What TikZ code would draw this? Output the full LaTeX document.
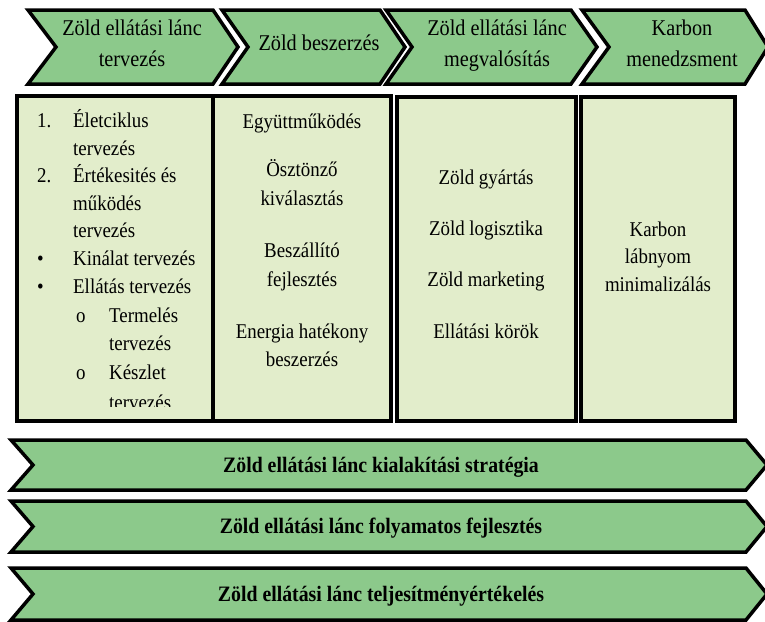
\documentclass[tikz,border=0pt]{standalone}
\usepackage{fontspec}
\setmainfont{Liberation Serif}[FakeStretch=0.9]
\definecolor{arrowgreen}{RGB}{140,201,139}
\definecolor{boxgreen}{RGB}{226,237,203}
\begin{document}
\begin{tikzpicture}[x=1pt,y=-1pt,
  chev/.style={draw=black, fill=arrowgreen, line width=3.5pt, line join=miter},
  panel/.style={draw=black, fill=boxgreen, line width=3.5pt},
  ctext/.style={font=\fontsize{22.5}{30}\selectfont, anchor=base, inner sep=0pt},
  btext/.style={font=\fontsize{21}{28}\selectfont, anchor=base, inner sep=0pt},
  ltext/.style={font=\fontsize{21}{28}\selectfont, anchor=base west, inner sep=0pt},
  strat/.style={font=\bfseries\fontsize{22}{24}\selectfont, anchor=base, inner sep=0pt}]
\useasboundingbox (0,0) rectangle (765,621);
\begin{scope}
\clip (0,0) rectangle (765,621);
% top chevrons
\draw[chev] (28,10) -- (213,10) -- (238,47) -- (213,84) -- (28,84) -- (56,47) -- cycle;
\draw[chev] (222,10) -- (380,10) -- (405,47) -- (380,84) -- (222,84) -- (248,47) -- cycle;
\draw[chev] (386,10) -- (571,10) -- (597,47) -- (571,84) -- (386,84) -- (412,47) -- cycle;
\draw[chev] (582,10) -- (745,10) -- (768,47) -- (745,84) -- (582,84) -- (609,47) -- cycle;
% panels
\draw[panel] (17,96) rectangle (213,421);
\draw[panel] (213,96) rectangle (391,421);
\draw[panel] (397,97) rectangle (576,421);
\draw[panel] (581,97) rectangle (735,421);
% bottom arrows
\draw[chev] (11,440) -- (746,440) -- (767,465) -- (746,490) -- (11,490) -- (33,465) -- cycle;
\draw[chev] (11,501) -- (746,501) -- (767,526.5) -- (746,552) -- (11,552) -- (33,526.5) -- cycle;
\draw[chev] (11,568) -- (746,568) -- (767,594) -- (746,620) -- (11,620) -- (33,594) -- cycle;
\end{scope}
% chevron texts
\node[ctext] (c1a) at (132,35) {Zöld ellátási lánc};
\node[ctext] (c1b) at (132,66) {tervezés};
\node[ctext] (c2a) at (319,50) {Zöld beszerzés};
\node[ctext] (c3a) at (497,35) {Zöld ellátási lánc};
\node[ctext] (c3b) at (497,66) {megvalósítás};
\node[ctext] (c4a) at (682,35) {Karbon};
\node[ctext] (c4b) at (682,66) {menedzsment};
% panel 1 list
\begin{scope}
\clip (17,96) rectangle (213,406);
\node[ltext] (n1) at (37,127) {1.};
\node[ltext] (l1) at (73,127) {Életciklus};
\node[ltext] (l2) at (73,155) {tervezés};
\node[ltext] (n2) at (37,182) {2.};
\node[ltext] (l3) at (73,182) {Értékesités és};
\node[ltext] (l4) at (73,210) {működés};
\node[ltext] (l5) at (73,237) {tervezés};
\node[ltext] (b1) at (37,265) {•};
\node[ltext] (l6) at (73,265) {Kinálat tervezés};
\node[ltext] (b2) at (37,293) {•};
\node[ltext] (l7) at (73,293) {Ellátás tervezés};
\node[ltext] (o1) at (76,322) {o};
\node[ltext] (l8) at (109,322) {Termelés};
\node[ltext] (l9) at (109,350) {tervezés};
\node[ltext] (o2) at (76,379) {o};
\node[ltext] (l10) at (109,379) {Készlet};
\node[ltext] (l11) at (109,409) {tervezés};
\end{scope}
% panel 2
\node[btext] (p2a) at (302,128) {Együttműködés};
\node[btext] (p2b) at (302,176) {Ösztönző};
\node[btext] (p2c) at (302,205) {kiválasztás};
\node[btext] (p2d) at (302,257) {Beszállító};
\node[btext] (p2e) at (302,286) {fejlesztés};
\node[btext] (p2f) at (302,338) {Energia hatékony};
\node[btext] (p2g) at (302,366) {beszerzés};
% panel 3
\node[btext] (p3a) at (486,184) {Zöld gyártás};
\node[btext] (p3b) at (486,235) {Zöld logisztika};
\node[btext] (p3c) at (486,286) {Zöld marketing};
\node[btext] (p3d) at (486,338) {Ellátási körök};
% panel 4
\node[btext] (p4a) at (658,236) {Karbon};
\node[btext] (p4b) at (658,263) {lábnyom};
\node[btext] (p4c) at (658,291) {minimalizálás};
% bottom texts
\node[strat] (s1) at (381,472) {Zöld ellátási lánc kialakítási stratégia};
\node[strat] (s2) at (381,533) {Zöld ellátási lánc folyamatos fejlesztés};
\node[strat] (s3) at (381,601) {Zöld ellátási lánc teljesítményértékelés};
\end{tikzpicture}
\end{document}
